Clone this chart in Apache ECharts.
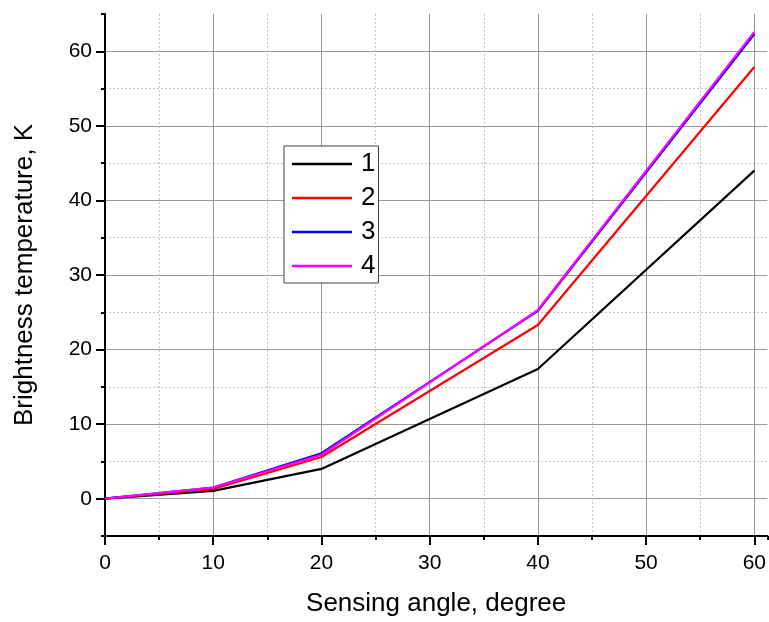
<!DOCTYPE html>
<html>
<head>
<meta charset="utf-8">
<script src="https://cdn.jsdelivr.net/npm/echarts@6/dist/echarts.min.js"></script>
<style>
  html, body { margin: 0; padding: 0; background: #fff; }
  #chart { width: 769px; height: 622px; }
</style>
</head>
<body>
<div id="chart"></div>
<script>
// sensing angle, degree
var angles = [0, 10, 20, 40, 60];
// brightness temperature, K
var curve1 = [0, 1.05, 4.0, 17.4, 44.0];
var curve2 = [0, 1.3, 5.6, 23.3, 57.9];
var curve3 = [0, 1.5, 6.1, 25.2, 62.3];
var curve4 = [0, 1.5, 5.9, 25.3, 62.6];
var seriesNames = ['1', '2', '3', '4'];
var seriesColors = ['#000000', '#ff0000', '#0000ff', '#ff00ff'];
var xTicks = [0, 10, 20, 30, 40, 50, 60];
var yTicks = [0, 10, 20, 30, 40, 50, 60];

var font = "'Liberation Sans', Arial, sans-serif";

function pairs(ys) {
  return angles.map(function (a, i) { return [a, ys[i]]; });
}

// three stacked axes per direction: minor (dotted grid + short ticks),
// major grid lines, and major ticks + labels
function makeAxes(isX) {
  var base = isX
    ? { type: 'value', min: 0, max: 61.2, interval: 5, position: 'bottom' }
    : { type: 'value', min: -5, max: 65, interval: 5, position: 'left' };
  var ticks = isX ? xTicks : yTicks;
  var minor = Object.assign({}, base, {
    axisLine: { show: true, onZero: false, lineStyle: { color: '#000', width: 2 } },
    axisTick: { show: true, length: 4, lineStyle: { color: '#000', width: 2 } },
    axisLabel: { show: false },
    splitLine: {
      show: true, showMinLine: false, showMaxLine: false,
      lineStyle: { color: '#c4c4c4', width: 1, type: [2, 2] }
    }
  });
  var major = Object.assign({}, base, {
    axisLine: { show: false },
    axisTick: { show: false },
    axisLabel: { show: false },
    splitLine: {
      show: true, showMinLine: true, showMaxLine: false,
      lineStyle: {
        color: isX ? ['#999999', 'rgba(0,0,0,0)'] : ['rgba(0,0,0,0)', '#999999'],
        width: 1
      }
    }
  });
  var labels = Object.assign({}, base, {
    axisLine: { show: false, onZero: false },
    axisTick: { show: true, customValues: ticks, length: 9, lineStyle: { color: '#000', width: 2 } },
    axisLabel: {
      show: true, customValues: ticks, fontFamily: font, fontSize: 21, color: '#000',
      margin: isX ? 17 : 13
    },
    splitLine: { show: false },
    name: isX ? 'Sensing angle, degree' : 'Brightness temperature, K',
    nameLocation: 'middle',
    nameGap: isX ? 55 : 67,
    nameTextStyle: { fontFamily: font, fontSize: 26, color: '#000' }
  });
  return [minor, major, labels];
}

var chart = echarts.init(document.getElementById('chart'));

var series = [curve1, curve2, curve3, curve4].map(function (ys, i) {
  return {
    name: seriesNames[i],
    type: 'line',
    xAxisIndex: 0,
    yAxisIndex: 0,
    data: pairs(ys),
    symbol: 'none',
    lineStyle: { color: seriesColors[i], width: 2.2 },
    itemStyle: { color: seriesColors[i] }
  };
});

chart.setOption({
  animation: false,
  backgroundColor: '#fff',
  grid: { left: 105, right: 0, top: 14, bottom: 85, containLabel: false },
  xAxis: makeAxes(true),
  yAxis: makeAxes(false),
  legend: {
    orient: 'vertical',
    left: 284,
    top: 146,
    data: seriesNames,
    icon: 'rect',
    itemWidth: 60,
    itemHeight: 2.5,
    itemGap: 8,
    padding: [5, 3, 4, 8],
    borderColor: '#404040',
    borderWidth: 1,
    backgroundColor: '#fff',
    textStyle: { fontFamily: font, fontSize: 26, color: '#000', lineHeight: 26, padding: [0, 0, 0, 4] }
  },
  series: series
});
</script>
</body>
</html>
